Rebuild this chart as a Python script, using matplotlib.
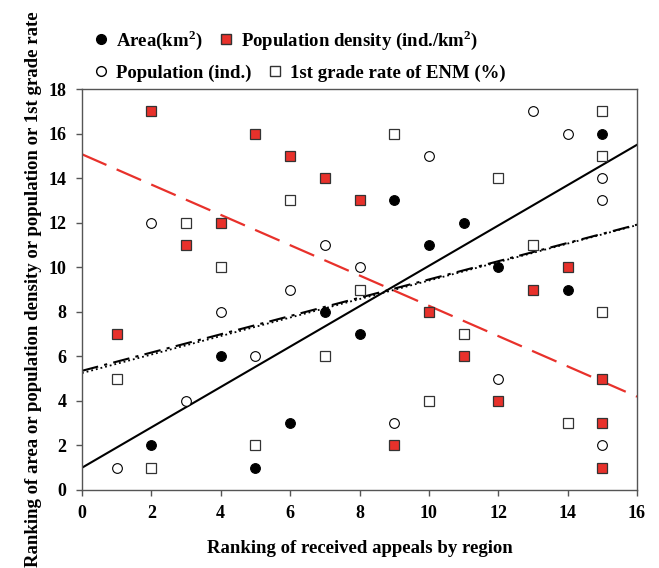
import matplotlib
matplotlib.use("Agg")
import matplotlib.pyplot as plt
from matplotlib.lines import Line2D
import numpy as np

plt.rcParams['font.family'] = ['Liberation Serif', 'DejaVu Serif']
plt.rcParams['font.weight'] = 'bold'
plt.rcParams['mathtext.fontset'] = 'custom'
plt.rcParams['mathtext.rm'] = 'Liberation Serif:bold'
plt.rcParams['mathtext.bf'] = 'Liberation Serif:bold'

# Data (ranking of received appeals = x)
area_x = [2, 4, 5, 6, 7, 8, 9, 10, 11, 12, 14, 15]
area_y = [2, 6, 1, 3, 8, 7, 13, 11, 12, 10, 9, 16]

pop_x = [1, 2, 3, 4, 5, 6, 7, 8, 9, 10, 12, 13, 14, 15, 15, 15]
pop_y = [1, 12, 4, 8, 6, 9, 11, 10, 3, 15, 5, 17, 16, 14, 13, 2]

dens_x = [1, 2, 3, 4, 5, 6, 7, 8, 9, 10, 11, 12, 13, 14, 15, 15, 15]
dens_y = [7, 17, 11, 12, 16, 15, 14, 13, 2, 8, 6, 4, 9, 10, 5, 3, 1]

enm_x = [1, 2, 3, 4, 5, 6, 7, 8, 9, 10, 11, 12, 13, 14, 15, 15, 15]
enm_y = [5, 1, 12, 10, 2, 13, 6, 9, 16, 4, 7, 14, 11, 3, 17, 15, 8]

# Trend lines (intercept, slope)
area_fit = (1.0, 0.906)
dens_fit = (15.07, -0.68)
pop_fit = (5.35, 0.41)
enm_fit = (5.25, 0.415)

xticks = [0, 2, 4, 6, 8, 10, 12, 14, 16]
yticks = [0, 2, 4, 6, 8, 10, 12, 14, 16, 18]

red = '#e8312b'
edge = '#333333'

fig = plt.figure(figsize=(6.59, 5.68), dpi=100)
ax = fig.add_axes([82/659, 1-490/568, (637-82)/659, (490-89)/568])

xl = np.array([0, 16])
ax.plot(xl, area_fit[0] + area_fit[1]*xl, color='black', lw=1.5, zorder=2)
ax.plot(xl, dens_fit[0] + dens_fit[1]*xl, color=red, lw=1.6, dashes=(12, 5), zorder=2)
ax.plot(xl, enm_fit[0] + enm_fit[1]*xl, color='black', lw=1.3, ls=':', zorder=2)
ax.plot(xl, pop_fit[0] + pop_fit[1]*xl, color='black', lw=1.5, dashes=(8, 3, 1.5, 3), zorder=2)

ms = 7
ax.plot(area_x, area_y, 'o', ms=ms, mfc='black', mec='black', mew=0.8, zorder=3)
ax.plot(pop_x, pop_y, 'o', ms=ms, mfc='white', mec='black', mew=0.8, zorder=3)
ax.plot(dens_x, dens_y, 's', ms=ms, mfc=red, mec=edge, mew=0.9, zorder=3)
ax.plot(enm_x, enm_y, 's', ms=ms, mfc='white', mec=edge, mew=0.9, zorder=3)

ax.set_xlim(0, 16)
ax.set_ylim(0, 18)
ax.set_xticks(xticks)
ax.set_yticks(yticks)
for s in ax.spines.values():
    s.set_color('#555555')
    s.set_linewidth(1.0)
ax.tick_params(direction='out', length=4, width=1, color='#555555', labelsize=13, pad=7)
for lab in ax.get_xticklabels() + ax.get_yticklabels():
    lab.set_fontweight('bold')

ax.set_xlabel('Ranking of received appeals by region', fontsize=13.5, fontweight='bold', labelpad=13)
ax.set_ylabel('Ranking of area or population density or population or 1st grade rate',
              fontsize=13.5, fontweight='bold', labelpad=5)

h_area = Line2D([], [], marker='o', ls='', ms=ms, mfc='black', mec='black')
h_dens = Line2D([], [], marker='s', ls='', ms=ms, mfc=red, mec=edge)
h_pop = Line2D([], [], marker='o', ls='', ms=ms, mfc='white', mec='black')
h_enm = Line2D([], [], marker='s', ls='', ms=ms, mfc='white', mec=edge)

kw = dict(frameon=False, ncol=2, handlelength=0.8, handletextpad=0.4, columnspacing=0.9,
          prop={'weight': 'bold', 'size': 13.5}, loc='center left', borderaxespad=0, borderpad=0)
leg1 = fig.legend([h_area, h_dens], ['Area(km$^2$)', 'Population density (ind./km$^2$)'],
                  bbox_to_anchor=(93/659, 1-40/568), **kw)
leg2 = fig.legend([h_pop, h_enm], ['Population (ind.)', '1st grade rate of ENM (%)'],
                  bbox_to_anchor=(93/659, 1-73/568), **kw)

fig.savefig('out.png', dpi=100)
